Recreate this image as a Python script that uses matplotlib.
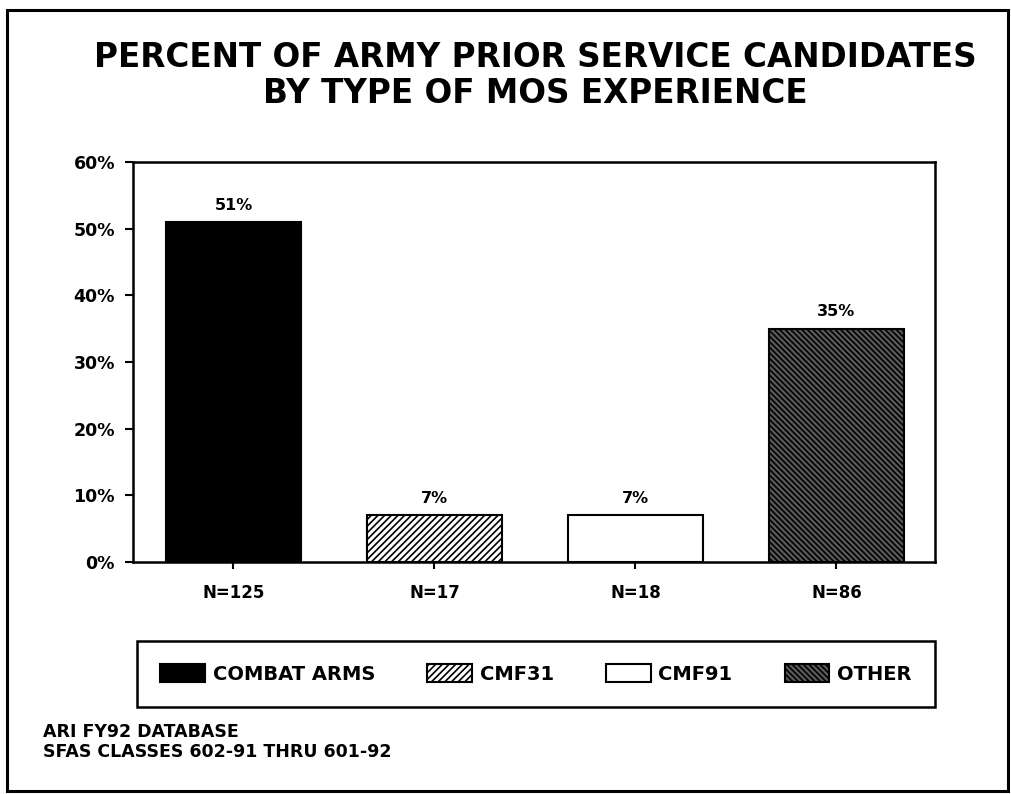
import matplotlib.pyplot as plt
from matplotlib.patches import Rectangle

plt.rcParams['font.family'] = ['DejaVu Sans']
plt.rcParams['hatch.linewidth'] = 1.2

categories = ['COMBAT ARMS', 'CMF31', 'CMF91', 'OTHER']
counts = ['N=125', 'N=17', 'N=18', 'N=86']
percents = [51, 7, 7, 35]
face_colors = ['black', 'white', 'white', '#5a5a5a']
hatches = [None, '/////', None, '\\\\\\\\\\\\']
yticks = [0, 10, 20, 30, 40, 50, 60]

fig = plt.figure(figsize=(10.12, 7.94), dpi=100)
ax = fig.add_axes([0.1314, 0.2922, 0.7925, 0.5038])

xs = list(range(len(categories)))
bars = ax.bar(xs, percents, width=0.67, color=face_colors, edgecolor='black',
              linewidth=1.5, label=categories)
for b, h in zip(bars, hatches):
    if h:
        b.set_hatch(h)

for x, p in zip(xs, percents):
    ax.text(x, p + 1.4, f'{p}%', ha='center', va='bottom',
            fontsize=11.5, fontweight='bold')

ax.set_xlim(-0.5, 3.49)
ax.set_ylim(0, 60)
ax.set_yticks(yticks)
ax.set_yticklabels([f'{t}%' for t in yticks], fontsize=12.5, fontweight='bold')
ax.set_xticks(xs)
ax.set_xticklabels(counts, fontsize=12, fontweight='bold')
ax.tick_params(axis='y', length=6, width=1.5, direction='out', pad=7)
ax.tick_params(axis='x', length=5, width=1.5, direction='out', pad=11)
for s in ax.spines.values():
    s.set_linewidth(1.8)

fig.text(0.5287, 0.905, 'PERCENT OF ARMY PRIOR SERVICE CANDIDATES\nBY TYPE OF MOS EXPERIENCE',
         ha='center', va='center', fontsize=23.5, fontweight='bold', linespacing=1.12)

leg = fig.legend(handles=list(bars), labels=categories, ncol=4,
                 loc='center', bbox_to_anchor=(0.1354, 0.1096, 0.7885, 0.0831),
                 mode='expand', frameon=True, fancybox=False, framealpha=1,
                 prop={'weight': 'bold', 'size': 14},
                 handlelength=2.3, handleheight=1.0, handletextpad=0.4,
                 borderaxespad=0, borderpad=1.2, columnspacing=1.5)
leg.get_frame().set_edgecolor('black')
leg.get_frame().set_linewidth(1.8)

fig.text(0.042, 0.0655, 'ARI FY92 DATABASE\nSFAS CLASSES 602-91 THRU 601-92',
         ha='left', va='center', fontsize=12.5, fontweight='bold', linespacing=1.12)

fig.patches.append(Rectangle((0.0069, 0.0038), 0.9891, 0.9832, transform=fig.transFigure,
                             fill=False, edgecolor='black', linewidth=2.2))

fig.savefig('out.png', dpi=100)
